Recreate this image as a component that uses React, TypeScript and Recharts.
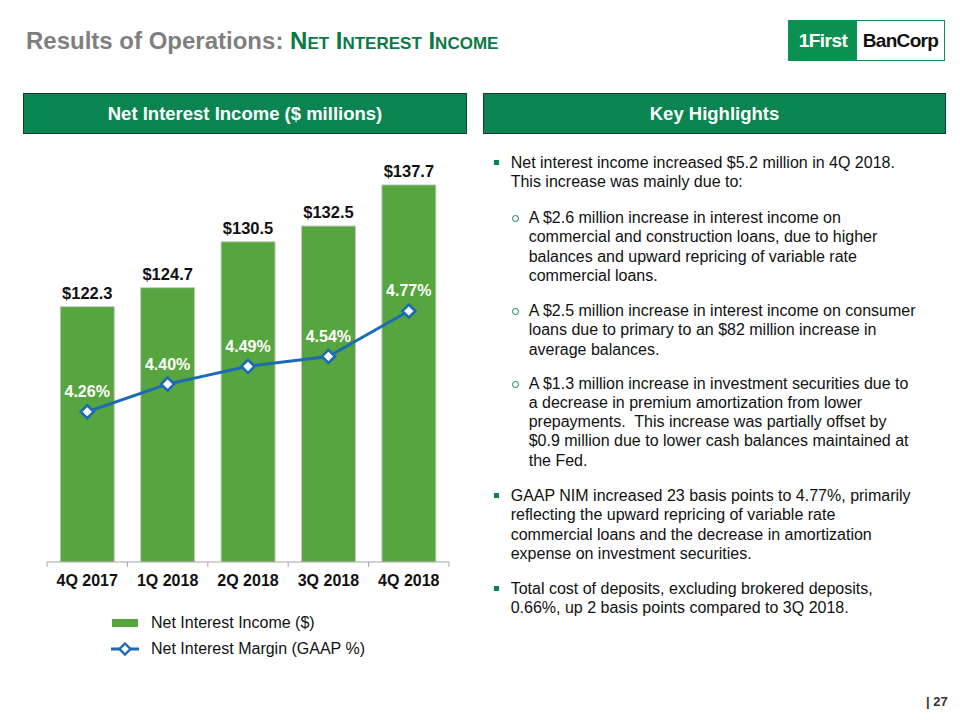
import React from 'react';
import { ComposedChart, Bar, Line, XAxis, YAxis, LabelList, Legend } from 'recharts';

const quarters = ['4Q 2017', '1Q 2018', '2Q 2018', '3Q 2018', '4Q 2018'];
const netInterestIncome = [122.3, 124.7, 130.5, 132.5, 137.7];
const netInterestMargin = [4.26, 4.4, 4.49, 4.54, 4.77];
const incomeDomain = [90, 140];
const marginDomain = [3.5, 5.5];
const seriesNames = ['Net Interest Income ($)', 'Net Interest Margin (GAAP %)'];

const data = quarters.map((q, i) => ({ quarter: q, nii: netInterestIncome[i], nim: netInterestMargin[i] }));

const FONT = '"Liberation Sans", Arial, sans-serif';
const BAR_GREEN = '#56A53E';
const LINE_BLUE = '#1B6BB5';
const DARK_GREEN = '#0A8552';

const CHART_W = 470;
const CHART_H = 530;
const M = { top: 26.7, right: 21, left: 47, bottom: 10 };
const HALF_BAND = (CHART_W - M.left - M.right) / quarters.length / 2;

const Diamond = (props: any) => {
  const { cx, cy } = props;
  if (cx == null || cy == null) return null;
  const r = 6.5;
  return (
    <path
      d={`M${cx},${cy - r} L${cx + r},${cy} L${cx},${cy + r} L${cx - r},${cy} Z`}
      fill="#fff"
      stroke={LINE_BLUE}
      strokeWidth={2.6}
    />
  );
};

const XTick = (props: any) => {
  const { x, y, payload, index } = props;
  return (
    <g>
      <line x1={x - HALF_BAND} x2={x - HALF_BAND} y1={y - 8} y2={y - 3} stroke="#A6A6A6" strokeWidth={1} />
      {index === quarters.length - 1 && (
        <line x1={x + HALF_BAND} x2={x + HALF_BAND} y1={y - 8} y2={y - 3} stroke="#A6A6A6" strokeWidth={1} />
      )}
      <text x={x} y={y + 10} textAnchor="middle" dominantBaseline="central" fontFamily={FONT} fontWeight="bold" fontSize={16} fill="#111">
        {payload.value}
      </text>
    </g>
  );
};

const BarLabel = (props: any) => {
  const { x, y, width, value } = props;
  return (
    <text x={x + width / 2} y={y - 14} textAnchor="middle" dominantBaseline="central" fontFamily={FONT} fontWeight="bold" fontSize={16.5} fill="#111">
      {`$${Number(value).toFixed(1)}`}
    </text>
  );
};

const LineLabel = (props: any) => {
  const { x, y, value } = props;
  return (
    <text x={x} y={y - 20} textAnchor="middle" dominantBaseline="central" fontFamily={FONT} fontWeight="bold" fontSize={16} fill="#fff">
      {`${Number(value).toFixed(2)}%`}
    </text>
  );
};

const LegendContent = () => (
  <div style={{ position: 'relative', width: 340, height: 68, fontFamily: FONT, fontSize: 16, color: '#111' }}>
    <div style={{ position: 'absolute', left: 65, top: 27, width: 26, height: 8, background: BAR_GREEN }} />
    <div style={{ position: 'absolute', left: 104, top: 21, lineHeight: '20px', whiteSpace: 'nowrap' }}>{seriesNames[0]}</div>
    <svg style={{ position: 'absolute', left: 63, top: 48 }} width={30} height={18}>
      <line x1={1} x2={29} y1={9} y2={9} stroke={LINE_BLUE} strokeWidth={3} />
      <path d="M15,3.5 L20.5,9 L15,14.5 L9.5,9 Z" fill="#fff" stroke={LINE_BLUE} strokeWidth={2.4} />
    </svg>
    <div style={{ position: 'absolute', left: 104, top: 47, lineHeight: '20px', whiteSpace: 'nowrap' }}>{seriesNames[1]}</div>
  </div>
);

type Para = { kind: 'main' | 'sub'; top: number; lines: string[] };
const paragraphs: Para[] = [
  { kind: 'main', top: 162.7, lines: ['Net interest income increased $5.2 million in 4Q 2018.', 'This increase was mainly due to:'] },
  {
    kind: 'sub',
    top: 217.7,
    lines: [
      'A $2.6 million increase in interest income on',
      'commercial and construction loans, due to higher',
      'balances and upward repricing of variable rate',
      'commercial loans.',
    ],
  },
  {
    kind: 'sub',
    top: 310.7,
    lines: [
      'A $2.5 million increase in interest income on consumer',
      'loans due to primary to an $82 million increase in',
      'average balances.',
    ],
  },
  {
    kind: 'sub',
    top: 383.3,
    lines: [
      'A $1.3 million increase in investment securities due to',
      'a decrease in premium amortization from lower',
      'prepayments.\u00a0 This increase was partially offset by',
      '$0.9 million due to lower cash balances maintained at',
      'the Fed.',
    ],
  },
  {
    kind: 'main',
    top: 495.7,
    lines: [
      'GAAP NIM increased 23 basis points to 4.77%, primarily',
      'reflecting the upward repricing of variable rate',
      'commercial loans and the decrease in amortization',
      'expense on investment securities.',
    ],
  },
  {
    kind: 'main',
    top: 588.3,
    lines: ['Total cost of deposits, excluding brokered deposits,', '0.66%, up 2 basis points compared to 3Q 2018.'],
  },
];

const LH = 19.2;

export default function App() {
  return (
    <div style={{ position: 'absolute', left: 0, top: 0, width: 960, height: 720, background: '#fff', fontFamily: FONT, overflow: 'hidden' }}>
      {/* Title */}
      <div style={{ position: 'absolute', left: 26, top: 27, lineHeight: '28px', fontSize: 24, fontWeight: 'bold', whiteSpace: 'nowrap' }}>
        <span style={{ color: '#7F7F7F' }}>Results of Operations: </span>
        <span style={{ color: '#0B7A45', fontVariant: 'small-caps' }}>Net Interest Income</span>
      </div>

      {/* Logo */}
      <div style={{ position: 'absolute', left: 788, top: 20, width: 157, height: 41, border: '1.5px solid #0A9150', boxSizing: 'border-box', display: 'flex' }}>
        <div style={{ width: 68, height: '100%', background: '#0A9150', color: '#fff', fontWeight: 'bold', fontSize: 19, display: 'flex', alignItems: 'center', justifyContent: 'center', letterSpacing: -0.5 }}>
          1First
        </div>
        <div style={{ flex: 1, color: '#111', fontWeight: 'bold', fontSize: 19, display: 'flex', alignItems: 'center', justifyContent: 'center', letterSpacing: -0.7 }}>
          BanCorp
        </div>
      </div>

      {/* Header boxes */}
      <div style={{ position: 'absolute', left: 23, top: 93, width: 444, height: 41, background: DARK_GREEN, border: '1px solid #1d3b2a', boxSizing: 'border-box', color: '#fff', fontWeight: 'bold', fontSize: 18.5, display: 'flex', alignItems: 'center', justifyContent: 'center' }}>
        Net Interest Income ($ millions)
      </div>
      <div style={{ position: 'absolute', left: 483, top: 93, width: 463, height: 41, background: DARK_GREEN, border: '1px solid #1d3b2a', boxSizing: 'border-box', color: '#fff', fontWeight: 'bold', fontSize: 18.5, display: 'flex', alignItems: 'center', justifyContent: 'center' }}>
        Key Highlights
      </div>

      {/* Chart */}
      <div style={{ position: 'absolute', left: 0, top: 140 }}>
        <ComposedChart width={CHART_W} height={CHART_H} data={data} margin={M} barCategoryGap="16.5%">
          <XAxis dataKey="quarter" axisLine={{ stroke: '#A6A6A6' }} tickLine={false} tick={<XTick />} height={30} interval={0} />
          <YAxis yAxisId="left" domain={incomeDomain} hide allowDataOverflow />
          <YAxis yAxisId="right" orientation="right" domain={marginDomain} hide allowDataOverflow />
          <Bar yAxisId="left" dataKey="nii" name={seriesNames[0]} fill={BAR_GREEN} stroke="#C9C9C9" strokeWidth={1} isAnimationActive={false}>
            <LabelList dataKey="nii" content={<BarLabel />} />
          </Bar>
          <Line yAxisId="right" dataKey="nim" name={seriesNames[1]} stroke={LINE_BLUE} strokeWidth={3} dot={<Diamond />} activeDot={false} isAnimationActive={false}>
            <LabelList dataKey="nim" content={<LineLabel />} />
          </Line>
          <Legend verticalAlign="bottom" align="left" content={<LegendContent />} />
        </ComposedChart>
      </div>

      {/* Highlights text */}
      {paragraphs.map((p, i) => {
        const left = p.kind === 'main' ? 510.7 : 528.7;
        return (
          <div key={i}>
            {p.kind === 'main' ? (
              <div style={{ position: 'absolute', left: 494, top: p.top - 2.5, width: 5, height: 5, background: '#0A8552' }} />
            ) : (
              <div style={{ position: 'absolute', left: 511.5, top: p.top - 2.5, width: 5, height: 5, borderRadius: '50%', border: '1px solid #0A8552' }} />
            )}
            <div style={{ position: 'absolute', left, top: p.top - LH / 2, fontSize: 16, lineHeight: `${LH}px`, color: '#111', whiteSpace: 'nowrap' }}>
              {p.lines.map((l, j) => (
                <div key={j}>{l}</div>
              ))}
            </div>
          </div>
        );
      })}

      {/* Page number */}
      <div style={{ position: 'absolute', left: 926, top: 694, fontSize: 13, fontWeight: 'bold', color: '#333', whiteSpace: 'nowrap' }}>| 27</div>
    </div>
  );
}
